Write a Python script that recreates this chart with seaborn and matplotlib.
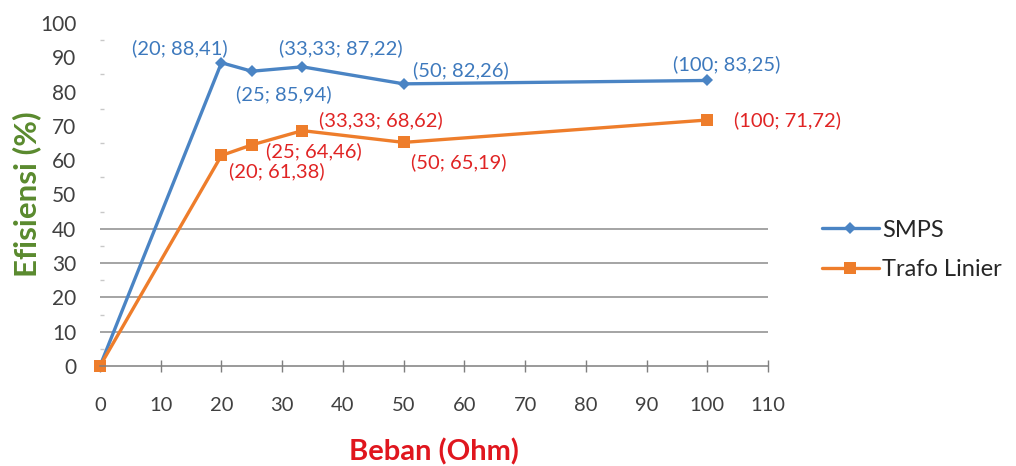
import matplotlib
matplotlib.use("Agg")
import matplotlib.pyplot as plt
import seaborn as sns
import pandas as pd

# ---- data ----
beban = [0, 20, 25, 33.33, 50, 100]
smps = [0, 88.41, 85.94, 87.22, 82.26, 83.25]
trafo = [0, 61.38, 64.46, 68.62, 65.19, 71.72]
series_names = ["SMPS", "Trafo Linier"]
smps_labels = ["(20; 88,41)", "(25; 85,94)", "(33,33; 87,22)", "(50; 82,26)", "(100; 83,25)"]
trafo_labels = ["(20; 61,38)", "(25; 64,46)", "(33,33; 68,62)", "(50; 65,19)", "(100; 71,72)"]
xticks = list(range(0, 111, 10))
yticks = list(range(0, 101, 10))
grid_levels = [10, 20, 30, 40]

# label offsets (pixels) - styling
smps_off = [(-42, 15), (32, -23), (38, 19), (57, 14), (19, 16)]
trafo_off = [(55, -16), (62, -6), (78, 10), (55, -20), (80, 0)]

sns.set_theme(style="white")
plt.rcParams['font.family'] = ['Lato', 'DejaVu Sans']

df = pd.DataFrame({
    "Beban": beban * 2,
    "Efisiensi": smps + trafo,
    "Seri": [series_names[0]] * len(beban) + [series_names[1]] * len(beban),
})

blue = "#4a84c4"
orange = "#ee7d2b"
fig = plt.figure(figsize=(10.16, 4.66), dpi=100)
ax = fig.add_axes([100 / 1016, 1 - 366 / 466, 668 / 1016, 343 / 466])

sns.lineplot(data=df, x="Beban", y="Efisiensi", hue="Seri", style="Seri",
             palette={series_names[0]: blue, series_names[1]: orange},
             markers={series_names[0]: "D", series_names[1]: "s"},
             dashes=False, linewidth=2.4, markeredgewidth=0, ax=ax, legend=True)
for line in ax.lines:
    if line.get_marker() == "D":
        line.set_markersize(6.5)
    else:
        line.set_markersize(8.5)

ax.hlines(grid_levels, 0, 110, colors="#8c8c8c", linewidth=1.1, zorder=0)

ax.set_xlim(0, 110)
ax.set_ylim(0, 100)
ax.set_xticks(xticks)
ax.set_yticks(yticks)
ax.set_yticks([v + 5 for v in yticks[:-1]], minor=True)
ax.tick_params(axis="x", direction="inout", length=9, width=1, color="#7f7f7f",
               labelsize=14.5, labelcolor="#404040", pad=18, bottom=True)
ax.tick_params(axis="y", which="major", length=0, labelsize=15, labelcolor="#404040", pad=17)
ax.tick_params(axis="y", which="minor", direction="in", length=3, width=1, color="#c8c8c8", left=True)

for s in ["top", "right", "left"]:
    ax.spines[s].set_visible(False)
ax.spines["bottom"].set_color("#7f7f7f")
ax.spines["bottom"].set_linewidth(1.1)
for line in ax.lines:
    line.set_clip_on(False)

for xv, yv, txt, off in zip(beban[1:], smps[1:], smps_labels, smps_off):
    ax.annotate(txt, (xv, yv), xytext=off, textcoords="offset pixels",
                ha="center", va="center", fontsize=14.5, color="#3d79bd")
for xv, yv, txt, off in zip(beban[1:], trafo[1:], trafo_labels, trafo_off):
    ax.annotate(txt, (xv, yv), xytext=off, textcoords="offset pixels",
                ha="center", va="center", fontsize=14.5, color="#e02424")

ax.set_xlabel("Beban (Ohm)", fontsize=21, fontweight="bold", color="#e0161e")
ax.set_ylabel("Efisiensi (%)", fontsize=22.5, fontweight="bold", color="#5a8a2e")
ax.xaxis.set_label_coords(0.5, -(438 - 366) / 343)
ax.yaxis.set_label_coords((41 - 100) / 668, 0.5)

handles, labels = ax.get_legend_handles_labels()
ax.get_legend().remove()
fig.legend(handles, labels, loc="center left", bbox_to_anchor=(822 / 1016, 1 - 250 / 466),
           frameon=False, fontsize=17, handlelength=2.4, labelspacing=0.8, handletextpad=0.15,
           borderpad=0, borderaxespad=0)

fig.savefig("out.png", dpi=100)
